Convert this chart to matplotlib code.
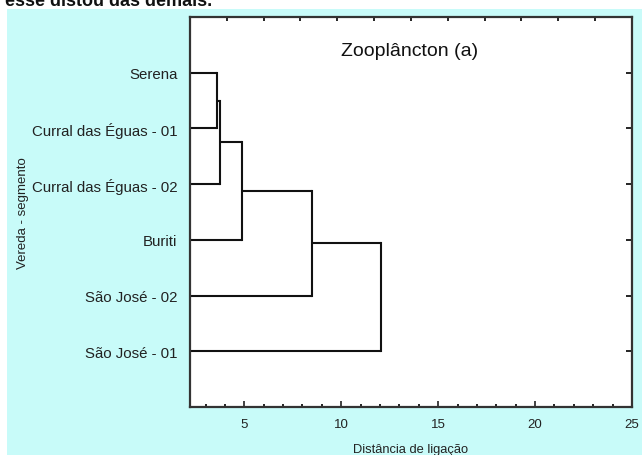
import matplotlib.pyplot as plt
from matplotlib.patches import Rectangle
from matplotlib.ticker import MultipleLocator

# leaves from bottom to top
labels = ["São José - 01", "São José - 02", "Buriti",
          "Curral das Éguas - 02", "Curral das Éguas - 01", "Serena"]
# merge order: (left cluster, right cluster, linkage distance)
merges = [
    ("Serena", "Curral das Éguas - 01", 3.6),
    ("m0", "Curral das Éguas - 02", 3.75),
    ("m1", "Buriti", 4.9),
    ("m2", "São José - 02", 8.5),
    ("m3", "São José - 01", 12.05),
]

plt.rcParams['font.family'] = ['Liberation Sans', 'DejaVu Sans']

fig = plt.figure(figsize=(6.42, 4.56), dpi=100)
fig.patches.append(Rectangle((7 / 642, 0), 1, 1 - 9.5 / 456, transform=fig.transFigure,
                             facecolor='#c8fbf9', edgecolor='none', zorder=-10))
fig.text(5 / 642, 1 - 6.5 / 456, "esse distou das demais.", fontsize=13,
         fontweight='bold', va='baseline', ha='left', color='#111111')

ax = fig.add_axes([190 / 642, 48 / 456, 442 / 642, 390 / 456])
ax.set_facecolor('white')
xmin = 2.2

# position and height of every node
ypos = {name: i + 1 for i, name in enumerate(labels)}
xpos = {name: xmin for name in labels}
for k, (a, b, d) in enumerate(merges):
    for n in (a, b):
        ax.plot([xpos[n], d], [ypos[n], ypos[n]], color='#111111', lw=1.5,
                solid_capstyle='butt')
    ax.plot([d, d], [ypos[a], ypos[b]], color='#111111', lw=1.5)
    name = "m%d" % k
    ypos[name] = (ypos[a] + ypos[b]) / 2
    xpos[name] = d

ax.set_xlim(xmin, 25)
ax.set_ylim(0, 7)
ax.set_yticks(range(1, len(labels) + 1))
ax.set_yticklabels(labels, fontsize=10.8, color='#222222')
ax.set_xticks([5, 10, 15, 20, 25])
ax.xaxis.set_minor_locator(MultipleLocator(1))
ax.tick_params(axis='x', labelsize=9.5, direction='in', length=4, width=1.2,
               pad=8, top=False, colors='#222222')
ax.tick_params(axis='x', which='minor', direction='in', length=2, width=1.2, top=False)
ax.tick_params(axis='y', direction='in', length=4, width=1.2, right=True, pad=9)

# top axis has its own evenly spaced ticks
top = ax.secondary_xaxis('top', functions=(lambda v: v, lambda v: v))
step = (25 - xmin) / 12
top.set_xticks([xmin + step * i for i in range(1, 12)])
top.tick_params(direction='in', length=3, width=1.2, labeltop=False)
top.spines['top'].set_visible(False)

for s in ax.spines.values():
    s.set_linewidth(1.6)
    s.set_color('#333333')

ax.text(0.496, 0.915, "Zooplâncton (a)", transform=ax.transAxes, ha='center',
        va='center', fontsize=14, color='#111111')
ax.set_xlabel("Distância de ligação", fontsize=9.3, labelpad=9, color='#222222')
ax.set_ylabel("Vereda - segmento", fontsize=9.5, color='#222222')
ax.yaxis.set_label_coords(-0.365, 0.5)

fig.savefig("out.png", dpi=100)
